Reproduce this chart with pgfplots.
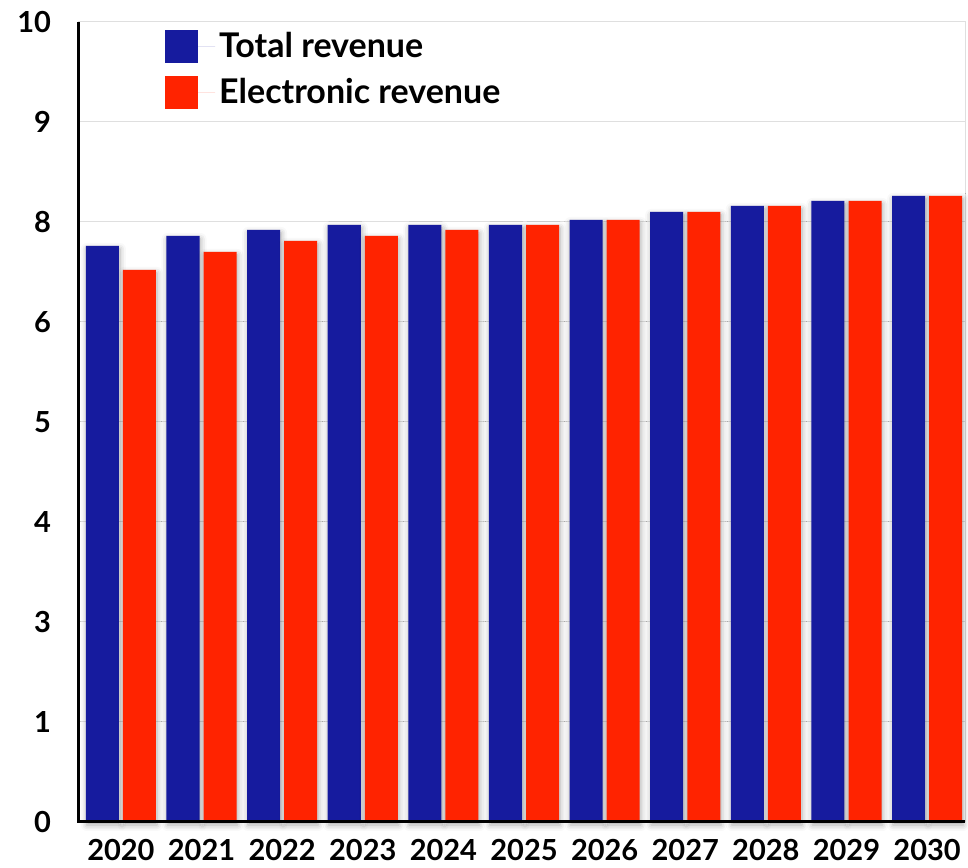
\documentclass[border=0pt]{standalone}
\usepackage{fontspec}
\setmainfont{Lato}
\usepackage{pgfplots}
\pgfplotsset{compat=1.18}
\usetikzlibrary{shadows.blur}
\definecolor{totblue}{RGB}{22,27,158}
\definecolor{elecred}{RGB}{255,35,0}

\begin{document}
\begin{tikzpicture}
\begin{axis}[
    scale only axis,
    width=443pt, height=400pt,
    xmin=-0.52, xmax=10.47,
    ymin=0, ymax=8,
    xtick={0,...,10},
    xticklabels={2020,2021,2022,2023,2024,2025,2026,2027,2028,2029,2030},
    ytick={0,...,8},
    yticklabels={0,1,3,4,5,6,8,9,10},
    major tick length=0pt,
    ymajorgrids,
    grid style={gray!25, line width=0.5pt},
    axis line style={gray!25, line width=0.5pt},
    tick label style={font=\fontsize{14.5}{16}\selectfont\bfseries},
    yticklabel style={xshift=-10.5pt},
    xticklabel style={yshift=-5pt},
    ybar,
    bar width=0.41,
    legend style={at={(0.090,0.998)}, anchor=north west, draw=none, fill=none,
        font=\fontsize{17}{19}\selectfont\bfseries,
        row sep=5pt},
    legend cell align=left,
    legend image code/.code={\fill[#1] (0pt,-8.25pt) rectangle (16.5pt,8.25pt);
        \path (0pt,0pt) -- (25pt,0pt);},
    clip=false,
]
\addlegendimage{fill=totblue, draw=none}
\addlegendentry{Total revenue}
\addlegendimage{fill=elecred, draw=none}
\addlegendentry{Electronic revenue}
\addplot[fill=totblue, draw=none, bar shift=-0.23, forget plot,
    blur shadow={shadow xshift=0.5pt, shadow yshift=-1.5pt, shadow blur radius=3pt, shadow opacity=35}]
coordinates {
    (0,5.76) (1,5.86) (2,5.92) (3,5.97) (4,5.97) (5,5.97)
    (6,6.02) (7,6.10) (8,6.16) (9,6.21) (10,6.26)
};
\addplot[fill=elecred, draw=none, bar shift=0.23, forget plot,
    blur shadow={shadow xshift=0.5pt, shadow yshift=-1.5pt, shadow blur radius=3pt, shadow opacity=35}]
coordinates {
    (0,5.52) (1,5.70) (2,5.81) (3,5.86) (4,5.92) (5,5.97)
    (6,6.02) (7,6.10) (8,6.16) (9,6.21) (10,6.26)
};
\draw[black, line width=1.5pt] (rel axis cs:0,1) -- (rel axis cs:0,0) -- (rel axis cs:1,0);
\path ([xshift=-39.5pt,yshift=-22pt]rel axis cs:0,0) -- ([xshift=1.5pt,yshift=11pt]rel axis cs:1,1);
\end{axis}
\end{tikzpicture}
\end{document}
